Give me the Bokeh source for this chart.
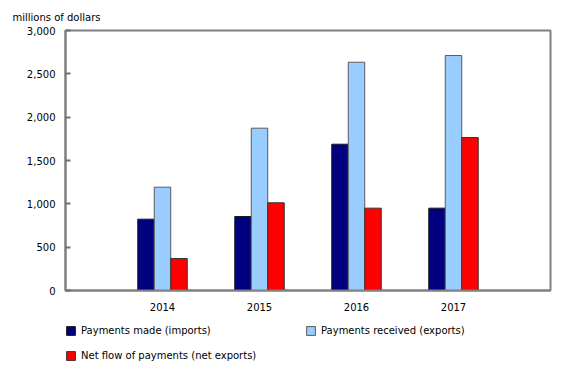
from bokeh.plotting import figure
from bokeh.layouts import column
from bokeh.models import (ColumnDataSource, Legend, LegendItem, Range1d, FixedTicker,
                          NumeralTickFormatter, Title)
from bokeh.transform import dodge
from bokeh.embed import file_html
from bokeh.resources import INLINE

years = [2014, 2015, 2016, 2017]
imports = [823, 854, 1688, 950]
exports = [1192, 1873, 2634, 2711]
net = [369, 1012, 950, 1765]
y_ticks = [0, 500, 1000, 1500, 2000, 2500, 3000]
series_names = ["Payments made (imports)", "Payments received (exports)",
                "Net flow of payments (net exports)"]
colors = ["#000080", "#99CCFF", "#FF0000"]
outlines = ["#1a1a1a", "#5a5a5a", "#333333"]

FONT = "DejaVu Sans"

src = ColumnDataSource(dict(year=years, imports=imports, exports=exports, net=net))

p = figure(width=580, height=315, output_backend="svg", toolbar_location=None,
           x_range=Range1d(2013, 2018), y_range=Range1d(0, 3000),
           min_border_left=65, min_border_right=30, min_border_top=30,
           min_border_bottom=25)

bw = 0.17
fields = ["imports", "exports", "net"]
offsets = [-bw, 0, bw]
for f, off, c, lc in zip(fields, offsets, colors, outlines):
    p.vbar(x=dodge("year", off, range=p.x_range), top=f, width=bw, source=src,
           fill_color=c, line_color=lc, line_width=1)

p.xgrid.visible = False
p.ygrid.visible = False
p.outline_line_color = "#808080"
p.outline_line_width = 2

p.xaxis.ticker = FixedTicker(ticks=years)
p.yaxis.ticker = FixedTicker(ticks=y_ticks)
p.yaxis.formatter = NumeralTickFormatter(format="0,0")
for ax in (p.xaxis, p.yaxis):
    ax.axis_line_color = "#808080"
    ax.axis_line_width = 2
    ax.major_label_text_font = FONT
    ax.major_label_text_font_size = "10px"
    ax.major_label_text_color = "#000000"
    ax.minor_tick_line_color = None
    ax.major_tick_line_color = "#707070"
    ax.major_tick_line_width = 2
p.xaxis.major_tick_in = 0
p.xaxis.major_tick_out = 0
p.xaxis.major_label_standoff = 12
p.yaxis.major_tick_in = 5
p.yaxis.major_tick_out = 0
p.yaxis.major_label_standoff = 10

t = Title(text="millions of dollars", align="left", offset=-53,
          text_font=FONT, text_font_size="10px", text_font_style="normal",
          text_color="#000000", standoff=15)
p.add_layout(t, "above")

# legend panel (second figure); its bars lie outside its ranges, only the legend shows
p2 = figure(width=580, height=55, output_backend="svg", toolbar_location=None,
            x_range=Range1d(5000, 5001), y_range=Range1d(5000, 5001),
            x_axis_location=None, y_axis_location=None, min_border=0)
p2.outline_line_color = None
p2.xgrid.visible = False
p2.ygrid.visible = False
lr = []
for f, c, lc in zip(fields, colors, outlines):
    lr.append(p2.vbar(x="year", top=f, width=bw, source=src,
                      fill_color=c, line_color=lc, line_width=1))

legend = Legend(items=[LegendItem(label=n, renderers=[r]) for n, r in zip(series_names, lr)],
                orientation="horizontal", ncols=2,
                location=(0, 2),
                label_text_font=FONT, label_text_font_size="10px",
                label_text_color="#000000",
                glyph_width=11, glyph_height=11, label_standoff=5,
                label_width=224, label_height=25, spacing=0,
                padding=0, margin=0, border_line_color=None,
                background_fill_alpha=0)
p2.add_layout(legend, "center")

layout = column(p, p2, spacing=0)
open("out.html", "w").write(file_html(layout, INLINE))
